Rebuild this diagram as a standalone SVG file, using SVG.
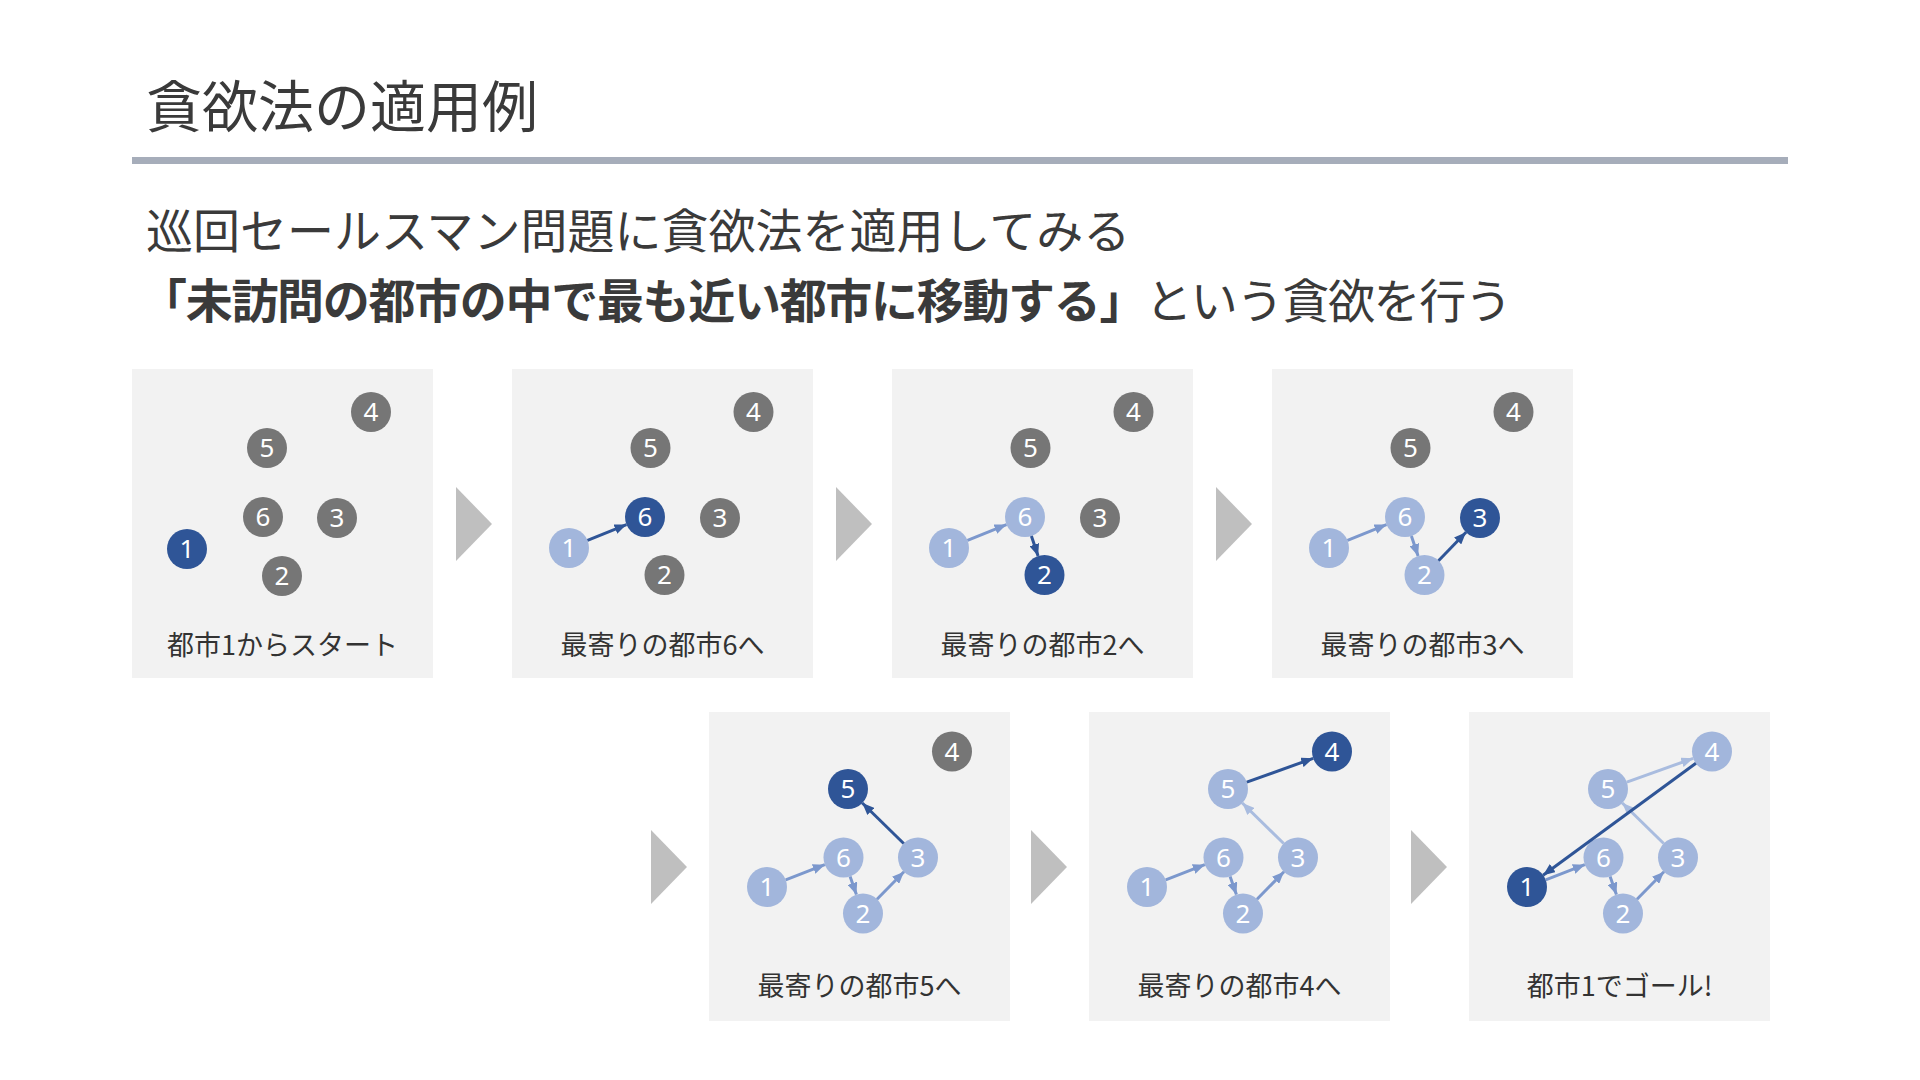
<svg xmlns="http://www.w3.org/2000/svg" width="1920" height="1080" viewBox="0 0 1920 1080">
<style>
text{font-family:"Noto Sans CJK JP","Noto Sans",sans-serif}
.title{font-size:56px;fill:#3a3a3a}
.sub{font-size:47px;fill:#3a3a3a}
.panel{fill:#f2f2f2}
.chev{fill:#bfbfbf}
.lbl{font-size:27px;fill:#333;text-anchor:middle}
.n circle{stroke:none}
.g circle{fill:#767676}
.d circle{fill:#2f5597}
.l circle{fill:#a2b6dc}
.n text{font-family:"Noto Sans","Open Sans",sans-serif;font-size:26px;fill:#fff;text-anchor:middle}
.cd{stroke:#2f5597;stroke-width:3;marker-end:url(#ad)}
.cm{stroke:#7c98cd;stroke-width:3;marker-end:url(#am)}
.cl{stroke:#a9bcdf;stroke-width:3;marker-end:url(#al)}
</style>
<defs>
<marker id="ad" viewBox="0 0 12 10" markerUnits="userSpaceOnUse" markerWidth="12" markerHeight="10" refX="12" refY="5" orient="auto"><path d="M0,0L12,5L0,10z" fill="#2f5597"/></marker>
<marker id="am" viewBox="0 0 12 10" markerUnits="userSpaceOnUse" markerWidth="12" markerHeight="10" refX="12" refY="5" orient="auto"><path d="M0,0L12,5L0,10z" fill="#7c98cd"/></marker>
<marker id="al" viewBox="0 0 12 10" markerUnits="userSpaceOnUse" markerWidth="12" markerHeight="10" refX="12" refY="5" orient="auto"><path d="M0,0L12,5L0,10z" fill="#a9bcdf"/></marker>
</defs>
<rect width="1920" height="1080" fill="#fff"/>
<text class="title" x="146" y="127">貪欲法の適用例</text>
<rect x="132" y="157" width="1656" height="7" fill="#a6adba"/>
<text class="sub" x="146" y="248">巡回セールスマン問題に貪欲法を適用してみる</text>
<text class="sub" x="140" y="318" textLength="1372" lengthAdjust="spacing"><tspan font-weight="bold">「未訪問の都市の中で最も近い都市に移動する」</tspan>という貪欲を行う</text>

<g id="panels">
<rect class="panel" x="132" y="369" width="301" height="309"/>
<rect class="panel" x="512" y="369" width="301" height="309"/>
<rect class="panel" x="892" y="369" width="301" height="309"/>
<rect class="panel" x="1272" y="369" width="301" height="309"/>
<rect class="panel" x="709" y="712" width="301" height="309"/>
<rect class="panel" x="1089" y="712" width="301" height="309"/>
<rect class="panel" x="1469" y="712" width="301" height="309"/>
<text class="lbl" x="282.5" y="655">都市1からスタート</text>
<text class="lbl" x="662.5" y="655">最寄りの都市6へ</text>
<text class="lbl" x="1042.5" y="655">最寄りの都市2へ</text>
<text class="lbl" x="1422.5" y="655">最寄りの都市3へ</text>
<text class="lbl" x="859.5" y="996">最寄りの都市5へ</text>
<text class="lbl" x="1239.5" y="996">最寄りの都市4へ</text>
<text class="lbl" x="1619.5" y="996">都市1でゴール!</text>
</g>

<g id="chevrons">
<path class="chev" d="M456,487L492,524L456,561z"/>
<path class="chev" d="M836,487L872,524L836,561z"/>
<path class="chev" d="M1216,487L1252,524L1216,561z"/>
<path class="chev" d="M651,830L687,867L651,904z"/>
<path class="chev" d="M1031,830L1067,867L1031,904z"/>
<path class="chev" d="M1411,830L1447,867L1411,904z"/>
</g>

<!-- Panel 1 -->
<g id="p1-n1" class="n d"><circle cx="187" cy="549" r="20"/><text x="187" y="558">1</text></g>
<g id="p1-n6" class="n g"><circle cx="263" cy="517" r="20"/><text x="263" y="526">6</text></g>
<g id="p1-n2" class="n g"><circle cx="282" cy="576" r="20"/><text x="282" y="585">2</text></g>
<g id="p1-n3" class="n g"><circle cx="337" cy="518" r="20"/><text x="337" y="527">3</text></g>
<g id="p1-n5" class="n g"><circle cx="267" cy="448" r="20"/><text x="267" y="457">5</text></g>
<g id="p1-n4" class="n g"><circle cx="371" cy="412" r="20"/><text x="371" y="421">4</text></g>

<!-- Panel 2 -->
<g id="p2-n1" class="n l"><circle cx="569" cy="548" r="20"/><text x="569" y="557">1</text></g>
<g id="p2-n6" class="n d"><circle cx="645" cy="517" r="20"/><text x="645" y="526">6</text></g>
<g id="p2-n2" class="n g"><circle cx="664.5" cy="575" r="20"/><text x="664.5" y="584">2</text></g>
<g id="p2-n3" class="n g"><circle cx="720" cy="518" r="20"/><text x="720" y="527">3</text></g>
<g id="p2-n5" class="n g"><circle cx="650.5" cy="448" r="20"/><text x="650.5" y="457">5</text></g>
<g id="p2-n4" class="n g"><circle cx="753.5" cy="412" r="20"/><text x="753.5" y="421">4</text></g>

<!-- Panel 3 -->
<g id="p3-n1" class="n l"><circle cx="949" cy="548" r="20"/><text x="949" y="557">1</text></g>
<g id="p3-n6" class="n l"><circle cx="1025" cy="517" r="20"/><text x="1025" y="526">6</text></g>
<g id="p3-n2" class="n d"><circle cx="1044.5" cy="575" r="20"/><text x="1044.5" y="584">2</text></g>
<g id="p3-n3" class="n g"><circle cx="1100" cy="518" r="20"/><text x="1100" y="527">3</text></g>
<g id="p3-n5" class="n g"><circle cx="1030.5" cy="448" r="20"/><text x="1030.5" y="457">5</text></g>
<g id="p3-n4" class="n g"><circle cx="1133.5" cy="412" r="20"/><text x="1133.5" y="421">4</text></g>

<!-- Panel 4 -->
<g id="p4-n1" class="n l"><circle cx="1329" cy="548" r="20"/><text x="1329" y="557">1</text></g>
<g id="p4-n6" class="n l"><circle cx="1405" cy="517" r="20"/><text x="1405" y="526">6</text></g>
<g id="p4-n2" class="n l"><circle cx="1424.5" cy="575" r="20"/><text x="1424.5" y="584">2</text></g>
<g id="p4-n3" class="n d"><circle cx="1480" cy="518" r="20"/><text x="1480" y="527">3</text></g>
<g id="p4-n5" class="n g"><circle cx="1410.5" cy="448" r="20"/><text x="1410.5" y="457">5</text></g>
<g id="p4-n4" class="n g"><circle cx="1513.5" cy="412" r="20"/><text x="1513.5" y="421">4</text></g>

<!-- Panel 5 -->
<g id="p5-n1" class="n l"><circle cx="767" cy="887" r="20"/><text x="767" y="896">1</text></g>
<g id="p5-n6" class="n l"><circle cx="843.5" cy="857.5" r="20"/><text x="843.5" y="866.5">6</text></g>
<g id="p5-n2" class="n l"><circle cx="863" cy="913.5" r="20"/><text x="863" y="922.5">2</text></g>
<g id="p5-n3" class="n l"><circle cx="918" cy="857.5" r="20"/><text x="918" y="866.5">3</text></g>
<g id="p5-n5" class="n d"><circle cx="848" cy="789" r="20"/><text x="848" y="798">5</text></g>
<g id="p5-n4" class="n g"><circle cx="952" cy="751.5" r="20"/><text x="952" y="760.5">4</text></g>

<!-- Panel 6 -->
<g id="p6-n1" class="n l"><circle cx="1147" cy="887" r="20"/><text x="1147" y="896">1</text></g>
<g id="p6-n6" class="n l"><circle cx="1223.5" cy="857.5" r="20"/><text x="1223.5" y="866.5">6</text></g>
<g id="p6-n2" class="n l"><circle cx="1243" cy="913.5" r="20"/><text x="1243" y="922.5">2</text></g>
<g id="p6-n3" class="n l"><circle cx="1298" cy="857.5" r="20"/><text x="1298" y="866.5">3</text></g>
<g id="p6-n5" class="n l"><circle cx="1228" cy="789" r="20"/><text x="1228" y="798">5</text></g>
<g id="p6-n4" class="n d"><circle cx="1332" cy="751.5" r="20"/><text x="1332" y="760.5">4</text></g>

<!-- Panel 7 -->
<g id="p7-n1" class="n d"><circle cx="1527" cy="887" r="20"/><text x="1527" y="896">1</text></g>
<g id="p7-n6" class="n l"><circle cx="1603.5" cy="857.5" r="20"/><text x="1603.5" y="866.5">6</text></g>
<g id="p7-n2" class="n l"><circle cx="1623" cy="913.5" r="20"/><text x="1623" y="922.5">2</text></g>
<g id="p7-n3" class="n l"><circle cx="1678" cy="857.5" r="20"/><text x="1678" y="866.5">3</text></g>
<g id="p7-n5" class="n l"><circle cx="1608" cy="789" r="20"/><text x="1608" y="798">5</text></g>
<g id="p7-n4" class="n l"><circle cx="1712" cy="751.5" r="20"/><text x="1712" y="760.5">4</text></g>

<g id="connectors">
<line class="cd" x1="587.5" y1="540.4" x2="626.5" y2="524.6"/>

<line class="cm" x1="967.5" y1="540.4" x2="1006.5" y2="524.6"/>
<line class="cd" x1="1031.4" y1="536" x2="1038.1" y2="556"/>

<line class="cm" x1="1347.5" y1="540.4" x2="1386.5" y2="524.6"/>
<line class="cm" x1="1411.4" y1="536" x2="1418.1" y2="556"/>
<line class="cd" x1="1438.5" y1="560.7" x2="1466" y2="532.3"/>

<line class="cm" x1="785.7" y1="879.8" x2="824.8" y2="864.7"/>
<line class="cm" x1="850.1" y1="876.4" x2="856.4" y2="894.6"/>
<line class="cm" x1="877" y1="899.2" x2="904" y2="871.8"/>
<line class="cd" x1="903.7" y1="843.5" x2="862.3" y2="803"/>

<line class="cm" x1="1165.7" y1="879.8" x2="1204.8" y2="864.7"/>
<line class="cm" x1="1230.1" y1="876.4" x2="1236.4" y2="894.6"/>
<line class="cm" x1="1257" y1="899.2" x2="1284" y2="871.8"/>
<line class="cl" x1="1283.7" y1="843.5" x2="1242.3" y2="803"/>
<line class="cd" x1="1246.8" y1="782.2" x2="1313.2" y2="758.3"/>

<line class="cm" x1="1545.7" y1="879.8" x2="1584.8" y2="864.7"/>
<line class="cm" x1="1610.1" y1="876.4" x2="1616.4" y2="894.6"/>
<line class="cm" x1="1637" y1="899.2" x2="1664" y2="871.8"/>
<line class="cl" x1="1663.7" y1="843.5" x2="1622.3" y2="803"/>
<line class="cl" x1="1626.8" y1="782.2" x2="1693.2" y2="758.3"/>
<line class="cd" x1="1695.9" y1="763.3" x2="1543.1" y2="875.2"/>
</g>
</svg>
